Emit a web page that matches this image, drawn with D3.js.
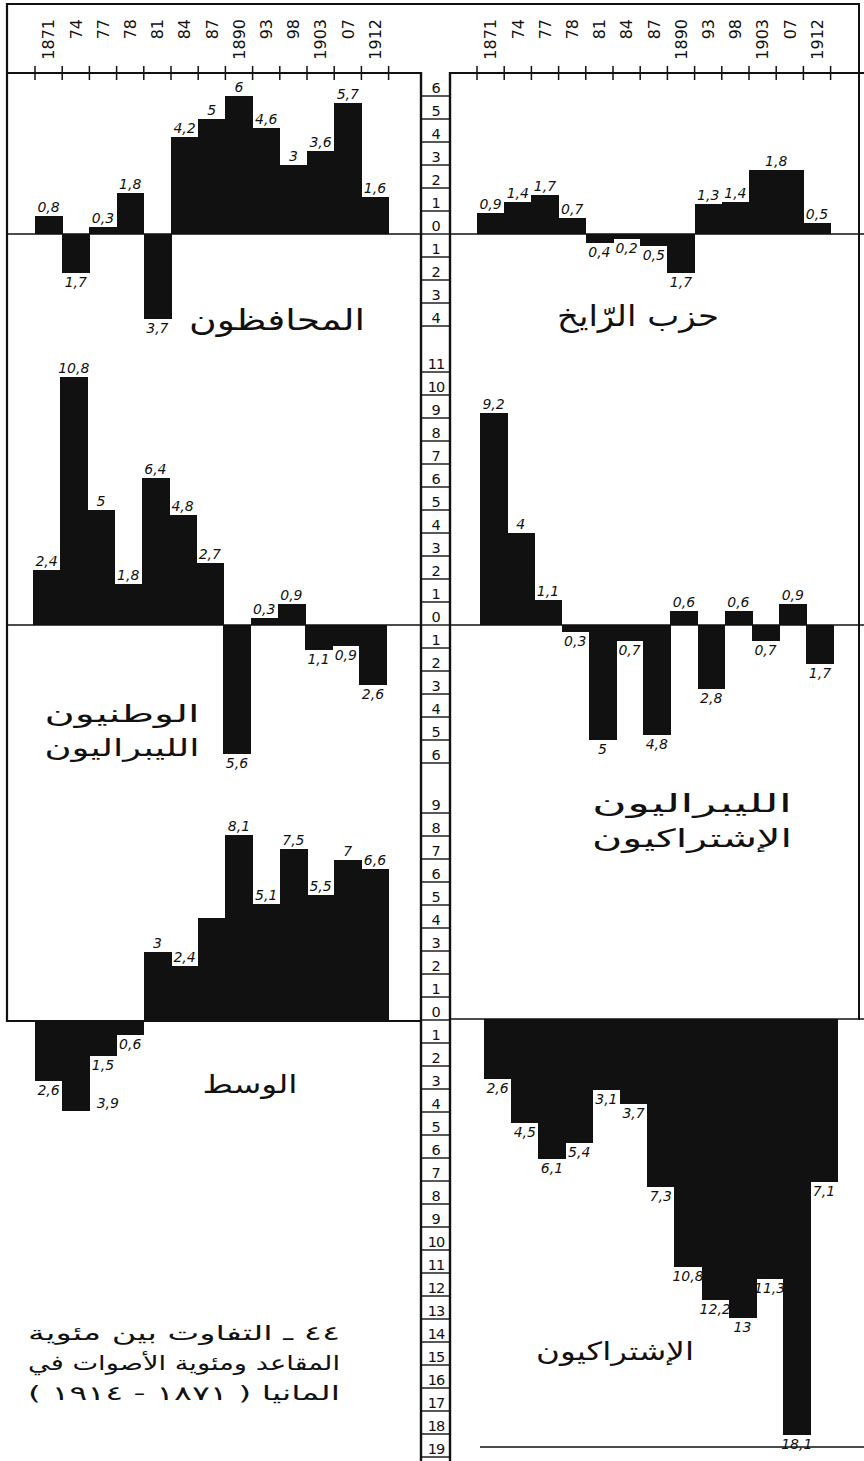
<!DOCTYPE html>
<html>
<head>
<meta charset="utf-8">
<script src="https://cdn.jsdelivr.net/npm/d3@7"></script>
<style>
  body { margin: 0; background: #fff; }
  svg { display: block; }
  .num { font-family: "DejaVu Sans", sans-serif; font-style: italic; font-size: 14px; fill: #111; }
  .year { font-family: "DejaVu Sans", sans-serif; font-size: 16px; fill: #111; }
  .scale { font-family: "DejaVu Sans", sans-serif; font-size: 14.5px; fill: #111; }
  .ar { font-family: "DejaVu Sans", sans-serif; fill: #111; direction: rtl; }
</style>
</head>
<body>
<svg width="864" height="1461"></svg>
<script>
// election years (top axis)
var years = ["1871", "74", "77", "78", "81", "84", "87", "1890", "93", "98", "1903", "07", "1912"];

// seats % minus votes %
var conservatives    = [0.8, -1.7, 0.3, 1.8, -3.7, 4.2, 5, 6, 4.6, 3, 3.6, 5.7, 1.6];
var reichspartei     = [0.9, 1.4, 1.7, 0.7, -0.4, -0.2, -0.5, -1.7, 1.3, 1.4, 2.8, 2.8, 0.5];
var nationalLiberals = [2.4, 10.8, 5, 1.8, 6.4, 4.8, 2.7, -5.6, 0.3, 0.9, -1.1, -0.9, -2.6];
var leftLiberals     = [9.2, 4, 1.1, -0.3, -5, -0.7, -4.8, 0.6, -2.8, 0.6, -0.7, 0.9, -1.7];
var centre           = [-2.6, -3.9, -1.5, -0.6, 3, 2.4, 4.5, 8.1, 5.1, 7.5, 5.5, 7, 6.6];
var socialists       = [-2.6, -4.5, -6.1, -5.4, -3.1, -3.7, -7.3, -10.8, -12.2, -13, -11.3, -18.1, -7.1];

// printed labels where they differ from the default
var reichLabels  = ["0,9", "1,4", "1,7", "0,7", "0,4", "0,2", "0,5", "1,7", "1,3", "1,4", "1,8", "", "0,5"];
var centreLabels = ["2,6", "3,9", "1,5", "0,6", "3", "2,4", "", "8,1", "5,1", "7,5", "5,5", "7", "6,6"];

// middle ruler, one list per row
var ruler1 = d3.range(6, -5, -1);
var ruler2 = d3.range(11, -7, -1);
var ruler3 = d3.range(9, -20, -1);

var partyNames = [
  {lines: ["المحافظون"], x: 277, y: 330, size: 29, len: 176},
  {lines: ["حزب الرّايخ"], x: 638, y: 326, size: 29, len: 162},
  {lines: ["الوطنيون", "الليبراليون"], x: 122, y: 722, size: 24, len: 155},
  {lines: ["الليبراليون", "الإشتراكيون"], x: 692, y: 812, size: 25, len: 200},
  {lines: ["الوسط"], x: 250, y: 1093, size: 25, len: 95},
  {lines: ["الإشتراكيون"], x: 615, y: 1360, size: 25, len: 158}
];
var caption = ["٤٤ ـ التفاوت بين مئوية", "المقاعد ومئوية الأصوات في", "المانيا ( ١٨٧١ - ١٩١٤ )"];

var svg = d3.select("svg");
var ink = "#111";
var unit = 23, bw = 27.2;

function fmt(v) { return d3.format(".1~f")(Math.abs(v)).replace(".", ","); }

var panels = [
  {id: "cons", values: conservatives, zero: 234, x0: 35},
  {id: "reich", values: reichspartei, labels: reichLabels, zero: 234, x0: 477},
  {id: "natlib", values: nationalLiberals, zero: 625, x0: 33},
  {id: "leftlib", values: leftLiberals, zero: 625, x0: 480},
  {id: "centre", values: centre, labels: centreLabels, zero: 1021, x0: 35},
  {id: "soc", values: socialists, zero: 1019, x0: 484}
];

// a few labels sit off their bar
var nudge = {"reich-10": [bw / 2, 0], "centre-1": [32, -17]};

function line(x1, y1, x2, y2, w) {
  svg.append("line")
    .attr("x1", x1).attr("y1", y1).attr("x2", x2).attr("y2", y2)
    .attr("stroke", ink).attr("stroke-width", w || 2);
}

panels.forEach(function(p) {
  var x = d3.scaleBand().domain(years).range([p.x0, p.x0 + bw * years.length]);
  var y = d3.scaleLinear().domain([0, 1]).range([p.zero, p.zero - unit]);
  var g = svg.append("g").attr("class", p.id);

  g.selectAll("rect")
    .data(p.values)
    .enter().append("rect")
      .attr("x", function(d, i) { return x(years[i]); })
      .attr("width", x.bandwidth() + 0.6)
      .attr("y", function(d) { return y(Math.max(0, d)); })
      .attr("height", function(d) { return Math.abs(y(d) - y(0)); })
      .attr("fill", ink)
      .attr("shape-rendering", "crispEdges");

  g.selectAll("text")
    .data(p.values)
    .enter().append("text")
      .attr("class", "num")
      .attr("text-anchor", "middle")
      .attr("x", function(d, i) {
        var n = nudge[p.id + "-" + i];
        return x(years[i]) + x.bandwidth() / 2 + (n ? n[0] : 0);
      })
      .attr("y", function(d, i) {
        var n = nudge[p.id + "-" + i];
        return (d >= 0 ? y(d) - 4 : y(d) + 14) + (n ? n[1] : 0);
      })
      .text(function(d, i) { return p.labels ? p.labels[i] : fmt(d); });
});

// top axes with year labels
[35, 477].forEach(function(x0) {
  var x = d3.scaleBand().domain(years).range([x0, x0 + bw * years.length]);
  years.forEach(function(yr) {
    svg.append("text")
      .attr("class", "year")
      .attr("text-anchor", "end")
      .attr("transform", "translate(" + (x(yr) + bw / 2) + ",19) rotate(-90)")
      .attr("dy", "0.36em")
      .text(yr);
  });
  d3.range(years.length + 1).forEach(function(i) {
    line(x0 + i * bw, 66, x0 + i * bw, 80, 1.5);
  });
});

// frame
line(7, 4, 859, 4, 2);
line(7, 3, 7, 1022, 2.2);
line(859, 3, 859, 1020, 2);
line(7, 73, 421, 73, 1.8);
line(450, 73, 864, 73, 1.8);
line(421, 72, 421, 1461, 2.4);
line(450, 72, 450, 1461, 2.4);
line(7, 234, 421, 234, 1.6);
line(450, 234, 864, 234, 1.6);
line(7, 625, 421, 625, 1.6);
line(450, 625, 864, 625, 1.6);
line(7, 1021, 421, 1021, 2);
line(450, 1019, 864, 1019, 1.6);
line(480, 1447, 864, 1447, 1.6);

// middle ruler
[[ruler1, 234], [ruler2, 625], [ruler3, 1020]].forEach(function(r) {
  var y = d3.scaleLinear().domain([0, 1]).range([r[1], r[1] - unit]);
  r[0].forEach(function(v) {
    line(421, y(v), 450, y(v), 1.4);
    var s = String(Math.abs(v));
    svg.append("text")
      .attr("class", "scale")
      .attr("text-anchor", "middle")
      .attr("x", 436)
      .attr("y", y(v) - 3)
      .attr("letter-spacing", s.length > 1 ? -1 : 0)
      .text(s);
  });
});

// party names
partyNames.forEach(function(n) {
  n.lines.forEach(function(t, i) {
    svg.append("text")
      .attr("class", "ar")
      .attr("text-anchor", "middle")
      .attr("x", n.x)
      .attr("y", n.y + i * n.size * 1.4)
      .attr("font-size", n.size)
      .attr("textLength", n.len)
      .attr("lengthAdjust", "spacingAndGlyphs")
      .text(t);
  });
});

caption.forEach(function(t, i) {
  svg.append("text")
    .attr("class", "ar")
    .attr("text-anchor", "middle")
    .attr("x", 184)
    .attr("y", 1340 + i * 30)
    .attr("font-size", 20)
    .attr("textLength", 312)
    .attr("lengthAdjust", "spacingAndGlyphs")
    .text(t);
});
</script>
</body>
</html>
